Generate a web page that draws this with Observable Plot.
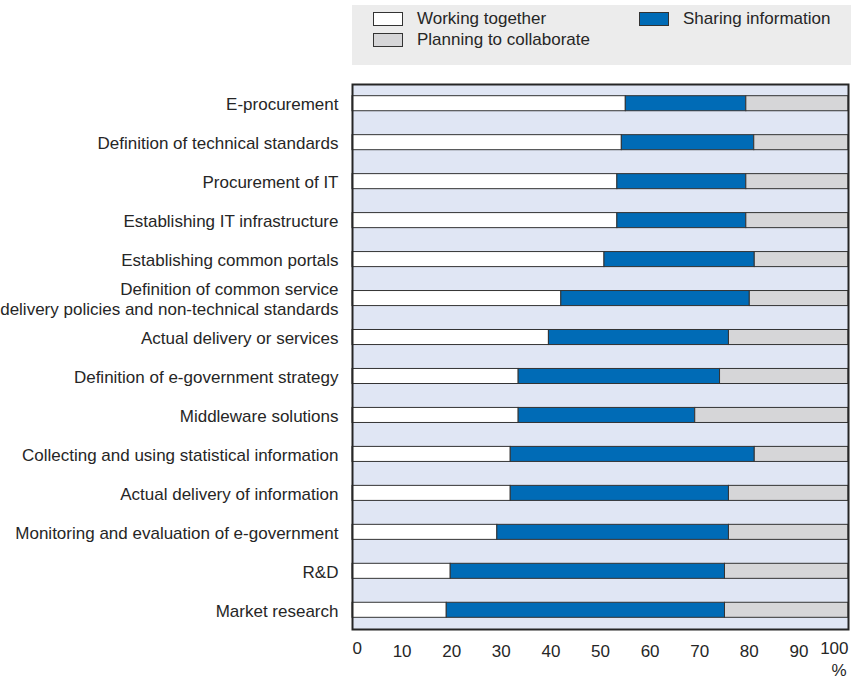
<!DOCTYPE html>
<html>
<head>
<meta charset="utf-8">
<script src="https://cdn.jsdelivr.net/npm/d3@7"></script>
<script src="https://cdn.jsdelivr.net/npm/@observablehq/plot@0.6"></script>
<style>
  body { margin: 0; background: #fff; }
  #wrap { position: relative; width: 851px; height: 679px; font-family: "Liberation Sans", Arial, sans-serif; }
  #legend { position: absolute; left: 352px; top: 5px; width: 499px; height: 60px; background: #ececec; }
  .item { position: absolute; font-size: 17px; color: #262626; line-height: 17px; white-space: nowrap; }
  .sw { position: absolute; width: 28px; height: 12px; border: 1px solid #333; }
  .lbl { position: absolute; }
</style>
</head>
<body>
<div id="wrap">
  <div id="chart"></div>
  <div id="legend"></div>
</div>
<script>
const categories = [
  "E-procurement",
  "Definition of technical standards",
  "Procurement of IT",
  "Establishing IT infrastructure",
  "Establishing common portals",
  "Definition of common service\ndelivery policies and non-technical standards",
  "Actual delivery or services",
  "Definition of e-government strategy",
  "Middleware solutions",
  "Collecting and using statistical information",
  "Actual delivery of information",
  "Monitoring and evaluation of e-government",
  "R&D",
  "Market research"
];
const seriesNames = ["Working together", "Sharing information", "Planning to collaborate"];
const workingTogether = [55.1, 54.3, 53.4, 53.4, 50.8, 42.1, 39.6, 33.5, 33.5, 31.9, 31.9, 29.2, 19.8, 19.0];
const sharingInformation = [24.3, 26.7, 26.0, 26.0, 30.3, 38.0, 36.3, 40.6, 35.6, 49.2, 44.0, 46.7, 55.3, 56.1];
const planningToCollaborate = [20.6, 19.0, 20.6, 20.6, 18.9, 19.9, 24.1, 25.9, 30.9, 18.9, 24.1, 24.1, 24.9, 24.9];
const seriesColors = ["#ffffff", "#006bb6", "#d6d6d8"];
const xTicks = [10, 20, 30, 40, 50, 60, 70, 80, 90];
const gridTicks = [10, 20, 30, 40, 50, 60, 70, 80, 90];
const gridRows = categories.slice(3);

const seriesValues = [workingTogether, sharingInformation, planningToCollaborate];
const data = [];
categories.forEach((c, i) => {
  seriesNames.forEach((s, j) => data.push({category: c, series: s, value: seriesValues[j][i]}));
});
const gridData = [];
gridRows.forEach(c => gridTicks.forEach(t => gridData.push({category: c, x: t})));

const chart = Plot.plot({
  width: 851,
  height: 679,
  marginLeft: 352,
  marginRight: 3,
  marginTop: 84,
  marginBottom: 50,
  style: {fontFamily: "'Liberation Sans', Arial, sans-serif", fontSize: "17px", color: "#262626", background: "transparent"},
  x: {domain: [0, 100]},
  y: {domain: categories, paddingInner: 0.614, paddingOuter: 0.3, round: false},
  color: {domain: seriesNames, range: seriesColors},
  marks: [
    Plot.frame({fill: "#e0e6f4", stroke: null}),
    Plot.ruleX(gridData, {x: "x", y: "category", stroke: "#f5f7fc", strokeWidth: 1.5, insetTop: -24, insetBottom: -12}),
    Plot.barX(data, Plot.stackX({x: "value", y: "category", fill: "series", order: seriesNames, stroke: "#333", strokeWidth: 1})),
    Plot.ruleX(xTicks, {x: d => d, y: () => categories[categories.length - 1], insetTop: 19, insetBottom: -12, stroke: "#333", strokeWidth: 2}),
    Plot.frame({stroke: "#262626", strokeWidth: 2}),
    Plot.axisY({tickSize: 0, tickPadding: 14, label: null, lineHeight: 1.15}),
    Plot.axisX(xTicks, {tickSize: 0, tickPadding: 15, label: null}),
    Plot.text([0], {x: d => d, frameAnchor: "bottom", dy: 24, textAnchor: "start", text: d => String(d)}),
    Plot.text([100], {x: d => d, frameAnchor: "bottom", dy: 24, textAnchor: "end", text: d => String(d)}),
    Plot.text(["%"], {x: () => 100, frameAnchor: "bottom", dy: 46, dx: -2, textAnchor: "end", text: d => d})
  ]
});
document.getElementById("chart").appendChild(chart);

// legend
const legend = document.getElementById("legend");
const legendPos = [[21, 7], [287, 7], [21, 28]];
seriesNames.forEach((s, i) => {
  const it = document.createElement("div");
  it.className = "item";
  it.style.left = legendPos[i][0] + "px";
  it.style.top = legendPos[i][1] + "px";
  const sw = document.createElement("div");
  sw.className = "sw";
  sw.style.background = seriesColors[i];
  sw.style.left = "0px";
  sw.style.top = "0px";
  const lb = document.createElement("div");
  lb.className = "lbl";
  lb.style.left = "44px";
  lb.style.top = "-2px";
  lb.textContent = s;
  it.appendChild(sw);
  it.appendChild(lb);
  legend.appendChild(it);
});
</script>
</body>
</html>
